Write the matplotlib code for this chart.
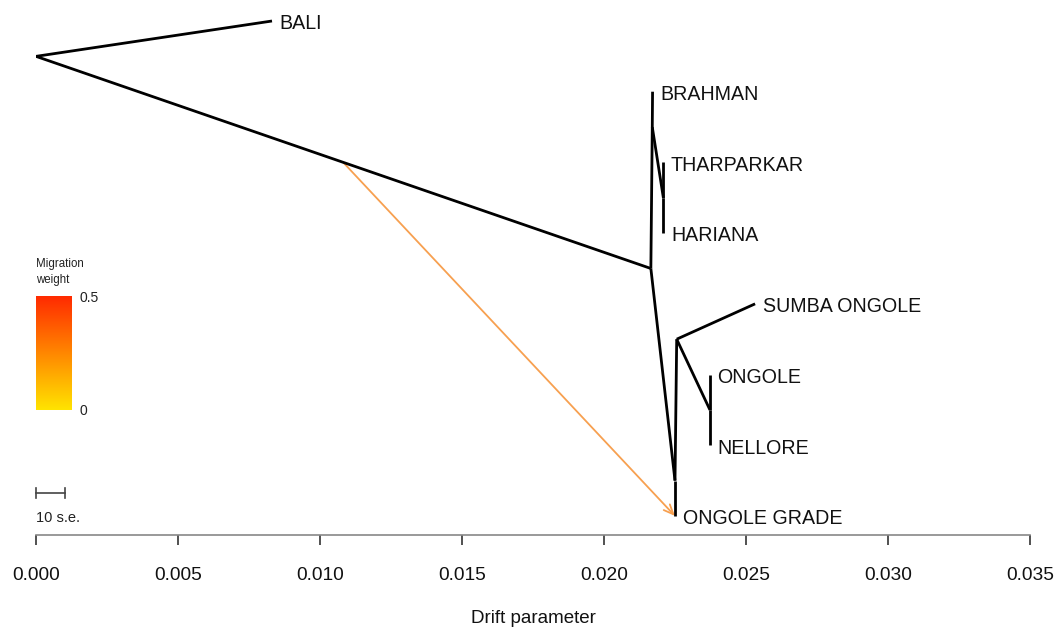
import numpy as np
import matplotlib
matplotlib.use("Agg")
import matplotlib.pyplot as plt
from matplotlib.colors import LinearSegmentedColormap

plt.rcParams['font.family'] = ['Liberation Sans', 'DejaVu Sans']

# ---- data -------------------------------------------------------------
tip_names = ["BALI", "BRAHMAN", "THARPARKAR", "HARIANA",
             "SUMBA ONGOLE", "ONGOLE", "NELLORE", "ONGOLE GRADE"]
tip_drift = [0.00831, 0.02171, 0.02209, 0.02209,
             0.02532, 0.02373, 0.02373, 0.02250]
tip_rank = [0, 1, 2, 3, 4, 5, 6, 7]

node_names = ["root", "A", "B", "C", "D", "E", "F"]
node_drift = [0.0, 0.02165, 0.02170, 0.02209, 0.02256, 0.02250, 0.02373]
node_rank = [0.5, 3.5, 1.5, 2.5, 4.5, 6.5, 5.5]

# edges (parent, child)
edges = [("root", "BALI"), ("root", "A"),
         ("A", "B"), ("B", "BRAHMAN"), ("B", "C"),
         ("C", "THARPARKAR"), ("C", "HARIANA"),
         ("A", "E"), ("E", "D"), ("E", "ONGOLE GRADE"),
         ("D", "SUMBA ONGOLE"), ("D", "F"),
         ("F", "ONGOLE"), ("F", "NELLORE")]

# migration edge: source on root->A branch at fraction, target tip, weight
mig_from = ("root", "A")
mig_frac = 0.4995
mig_to = "ONGOLE GRADE"
mig_weight = 0.17

x_ticks = [0.000, 0.005, 0.010, 0.015, 0.020, 0.025, 0.030, 0.035]
se_bar = 0.00102

# ---- figure ------------------------------------------------------------
W, H = 1054, 628
fig = plt.figure(figsize=(W / 100, H / 100), dpi=100)
ax_left, ax_right = 36 / W, 1030 / W
ax_bottom = (H - 535) / H
ax = fig.add_axes([ax_left, ax_bottom, ax_right - ax_left, 535 / H])
ax.set_xlim(0, 0.035)
r_per_px = 1 / 70.71
ax.set_ylim((535 - 21) * r_per_px, -21 * r_per_px)

pos = {}
for n, x, r in zip(tip_names, tip_drift, tip_rank):
    pos[n] = (x, r)
for n, x, r in zip(node_names, node_drift, node_rank):
    pos[n] = (x, r)

for p, c in edges:
    (x0, y0), (x1, y1) = pos[p], pos[c]
    ax.plot([x0, x1], [y0, y1], color='black', lw=2.0,
            solid_capstyle='butt', zorder=3)

for n in tip_names:
    x, y = pos[n]
    ax.annotate(n, (x, y), xytext=(5.5, -2), textcoords='offset points',
                ha='left', va='center', fontsize=14.1, color='#111111')

# migration arrow
cmap = LinearSegmentedColormap.from_list('mig', ['#FFE400', '#FF2A00'])
(xa, ya), (xb, yb) = pos[mig_from[0]], pos[mig_from[1]]
sx, sy = xa + mig_frac * (xb - xa), ya + mig_frac * (yb - ya)
tx, ty = pos[mig_to]
ax.annotate('', xy=(tx, ty), xytext=(sx, sy),
            arrowprops=dict(arrowstyle='->,head_length=0.7,head_width=0.3',
                            color='#F7A050', lw=1.3, shrinkA=0, shrinkB=0),
            zorder=2)

# axis
for s in ['top', 'right', 'left']:
    ax.spines[s].set_visible(False)
ax.spines['bottom'].set_bounds(0, 0.035)
ax.spines['bottom'].set_color('#888888')
ax.spines['bottom'].set_linewidth(1.2)
ax.set_yticks([])
ax.set_xticks(x_ticks)
ax.set_xticklabels([f"{t:.3f}" for t in x_ticks])
ax.tick_params(axis='x', length=7, width=1.2, color='#333333',
               labelsize=13.8, pad=16, labelcolor='#111111')
ax.set_xlabel("Drift parameter", fontsize=13.5, labelpad=19, color='#111111')

# scale bar (10 s.e.)
ybar = (493 - 21) * r_per_px
ax.plot([0, se_bar], [ybar, ybar], color='#444444', lw=1.2, clip_on=False)
for xe in (0, se_bar):
    ax.plot([xe, xe], [ybar - 0.07, ybar + 0.07], color='#444444', lw=1.2,
            clip_on=False)
ax.text(0, (518 - 21) * r_per_px, "10 s.e.", fontsize=10.5, ha='left',
        va='center', color='#222222')

# colour legend
cax = fig.add_axes([36 / W, (H - 410) / H, 36 / W, 114 / H])
grad = np.linspace(0, 0.5, 256).reshape(-1, 1)
cax.imshow(grad, aspect='auto', cmap=cmap, origin='lower',
           extent=[0, 1, 0, 0.5], vmin=0, vmax=0.5)
cax.set_axis_off()
fig.text(80 / W, 1 - 298 / H, "0.5", fontsize=10, va='center', ha='left',
         color='#222222')
fig.text(80 / W, 1 - 411 / H, "0", fontsize=10, va='center', ha='left',
         color='#222222')
fig.text(36 / W, 1 - 272 / H, "Migration\nweight", fontsize=8.3, va='center',
         ha='left', color='#222222', linespacing=1.45)

fig.savefig("out.png", dpi=100)
